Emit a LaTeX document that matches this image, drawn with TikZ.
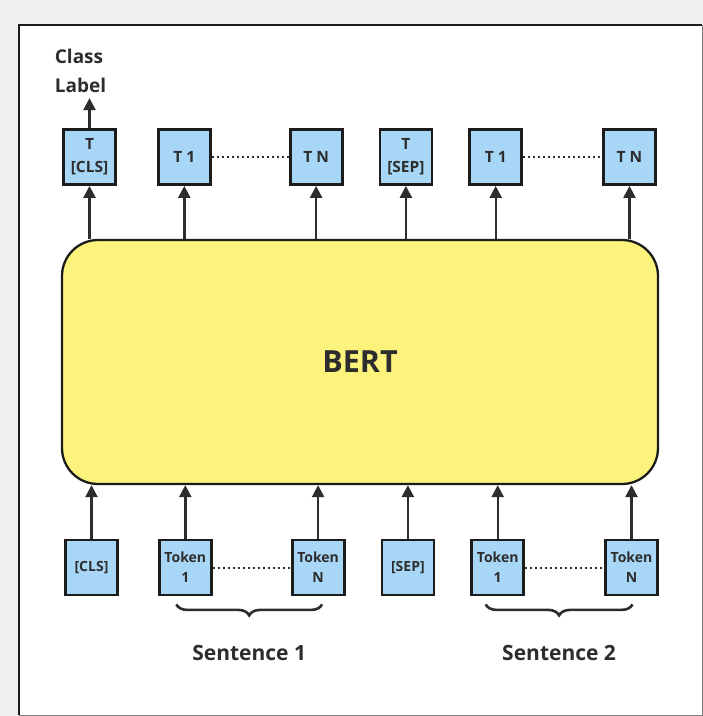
\documentclass[tikz,border=0pt]{standalone}
\usepackage{fontspec}
\setmainfont{Open Sans}
\usepackage{tikz}
\usetikzlibrary{arrows.meta,positioning,calc,decorations.pathreplacing}
\definecolor{fondo}{RGB}{240,240,240}
\definecolor{azulclaro}{RGB}{168,214,247}
\definecolor{amarillo}{RGB}{252,243,124}
\definecolor{tinta}{RGB}{45,45,45}
\definecolor{borde}{RGB}{28,28,28}

\begin{document}
\begin{tikzpicture}[x=1pt,y=-1pt,
salida/.style={draw=borde,line width=2.8pt,fill=azulclaro,minimum width=52pt,minimum height=55pt,inner sep=0pt,align=center,text=tinta,font=\bfseries\fontsize{15.5}{23}\selectfont},
entrada/.style={salida,font=\bfseries\fontsize{14}{20}\selectfont},
bertbox/.style={draw=borde,line width=2.3pt,fill=amarillo,rounded corners=36pt,minimum width=596pt,minimum height=244pt,text=tinta,font=\bfseries\fontsize{30.5}{36}\selectfont},
etiqueta/.style={align=left,inner sep=5pt,text=tinta,font=\bfseries\fontsize{19}{29}\selectfont},
frase/.style={inner sep=3pt,text=tinta,font=\bfseries\fontsize{21}{25}\selectfont},
arr/.style={-{Triangle[length=12pt,width=12pt]},line width=2.4pt,draw=tinta},
puntos/.style={line width=2pt,dash pattern=on 2pt off 3pt,draw=tinta},
llave/.style={decorate,decoration={brace,mirror,amplitude=11pt},line width=2.6pt,draw=tinta}
]
\useasboundingbox (0,0) rectangle (703,716);
\fill[fondo] (0,0) rectangle (703,716);
\fill[white] (19,25) rectangle (702,715);
\draw[line width=2pt,draw=borde] (19,715) -- (19,25) -- (702,25);
\draw[line width=1pt,draw=gray] (702,25) -- (702,715) -- (19,715);

\node[bertbox] (bert) at (360,362) {BERT};

% salidas del modelo
\node[salida] (tcls) at (89.5,157) {T\\{[CLS]}};
\node[salida,right=40pt of tcls] (tuno) {T 1};
\node[salida,right=77pt of tuno] (tene) {T N};
\node[salida,right=35pt of tene] (tsep) {T\\{[SEP]}};
\node[salida,right=35pt of tsep] (tunob) {T 1};
\node[salida,right=79pt of tunob] (teneb) {T N};

\node[etiqueta,above=30pt of tcls,xshift=-9pt] (clase) {Class\\Label};

% entradas
\node[entrada] (cls) at (91.5,567.5) {[CLS]};
\node[entrada,right=39pt of cls] (tokuno) {Token\\1};
\node[entrada,right=78pt of tokuno] (tokene) {Token\\N};
\node[entrada,right=35pt of tokene] (sep) {[SEP]};
\node[entrada,right=35pt of sep] (tokunob) {Token\\1};
\node[entrada,right=79pt of tokunob] (tokeneb) {Token\\N};

\draw[arr] (tcls) -- (tcls |- clase.south);
\draw[arr] (bert.north -| tcls) -- (tcls);
\draw[arr] (bert.north -| tuno) -- (tuno);
\draw[arr] (bert.north -| tene) -- (tene);
\draw[arr] (bert.north -| tsep) -- (tsep);
\draw[arr] (bert.north -| tunob) -- (tunob);
\draw[arr] (bert.north -| teneb) -- (teneb);

\draw[arr] (cls) -- (bert.south -| cls);
\draw[arr] (tokuno) -- (bert.south -| tokuno);
\draw[arr] (tokene) -- (bert.south -| tokene);
\draw[arr] (sep) -- (bert.south -| sep);
\draw[arr] (tokunob) -- (bert.south -| tokunob);
\draw[arr] (tokeneb) -- (bert.south -| tokeneb);

\draw[puntos] (tuno) -- (tene);
\draw[puntos] (tunob) -- (teneb);
\draw[puntos] (tokuno) -- (tokene);
\draw[puntos] (tokunob) -- (tokeneb);

\draw[llave] ([xshift=-9pt,yshift=-8pt]tokuno.south) -- ([xshift=4pt,yshift=-8pt]tokene.south)
  node[frase,midway,below=37pt] (frase1) {Sentence 1};
\draw[llave] ([xshift=-12pt,yshift=-8pt]tokunob.south) -- ([xshift=1pt,yshift=-8pt]tokeneb.south)
  node[frase,midway,below=37pt] (frase2) {Sentence 2};
\end{tikzpicture}
\end{document}
